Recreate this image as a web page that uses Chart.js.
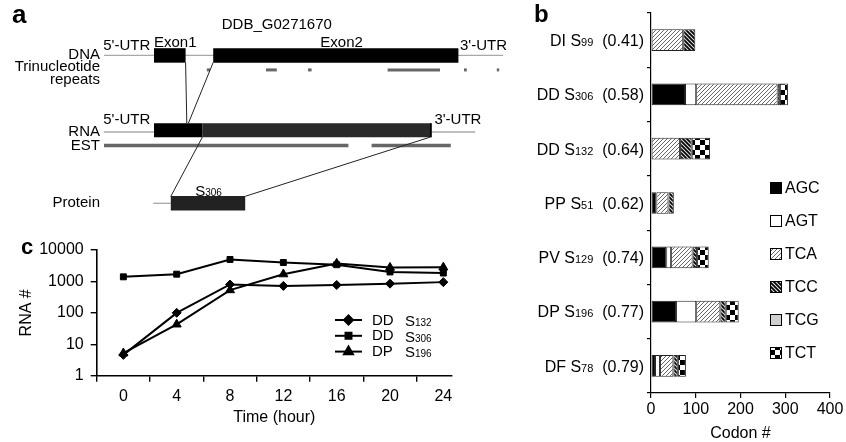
<!DOCTYPE html>
<html><head><meta charset="utf-8">
<script src="https://cdn.jsdelivr.net/npm/chart.js@4.4.0/dist/chart.umd.min.js"></script>
<style>
html,body{margin:0;padding:0;background:#fff;overflow:hidden;width:846px;height:442px}
canvas{position:absolute}
#ca{left:0;top:0}
#cb{left:530px;top:0}
#cc{left:0;top:230px}
</style></head><body>
<canvas id="ca" width="530" height="230"></canvas>
<canvas id="cb" width="316" height="442"></canvas>
<canvas id="cc" width="460" height="212"></canvas>
<script>
// ---------------- DATA ----------------
// Panel a: gene model (schematic units along the gene)
const dnaSpan = [0, 998];
const exons = [[125, 204], [273, 886]];
const repeats = [[257, 265], [405, 432], [510, 519], [709, 840], [900, 907], [982, 988]];
const rnaSpan = [0, 928];
const rnaFirst = [125, 246];
const rnaRest = [246, 819];
const estSegments = [[0, 611], [669, 867]];
const proteinLead = [123, 167];
const proteinBox = [167, 353];
const geneName = 'DDB_G0271670';
const proteinName = ['S', '306'];

// Panel b: codon usage per protein
const protNames = ['DI', 'DD', 'DD', 'PP', 'PV', 'DP', 'DF'];
const protSizes = ['99', '306', '132', '51', '129', '196', '78'];
const protScores = ['(0.41)', '(0.58)', '(0.64)', '(0.62)', '(0.74)', '(0.77)', '(0.79)'];
const codons = ['AGC', 'AGT', 'TCA', 'TCC', 'TCG', 'TCT'];
const AGC = [0, 76, 0, 12, 34, 56, 9];
const AGT = [0, 25, 0, 0, 11, 45, 11];
const TCA = [72, 182, 65, 27, 48, 54, 30];
const TCC = [27, 5, 26, 12, 10, 12, 10];
const TCG = [0, 0, 0, 0, 0, 0, 0];
const TCT = [0, 18, 41, 0, 26, 29, 18];
const codonTicks = [0, 100, 200, 300, 400];

// Panel c: RNA time course
const hours = [0, 4, 8, 12, 16, 20, 24];
const rnaS132 = [4.6, 100, 800, 720, 770, 850, 950];
const rnaS306 = [1400, 1700, 5000, 4000, 3400, 2000, 1850];
const rnaS196 = [5.2, 43, 530, 1700, 3700, 2750, 2800];
const seriesNames = [['DD', '132'], ['DD', '306'], ['DP', '196']];
const rnaTicks = [1, 10, 100, 1000, 10000];
const hourTicks = [0, 4, 8, 12, 16, 20, 24];

// ---------------- COMMON ----------------
const FONT = '"Liberation Sans", Arial, Helvetica, sans-serif';
Chart.defaults.font.family = FONT;
Chart.defaults.color = '#000';
Chart.defaults.animation = false;
Chart.defaults.plugins.legend.display = false;
Chart.defaults.plugins.tooltip.enabled = false;

// ---------------- PANEL A ----------------
const TR = {dna: 2.41, rep: 3.04, rna: 5.66, est: 6.33, prot: 8.84};
const boxHalf = 7 / 23;
function seg(a, y, color, width) {
  return {data: [{x: a[0], y: y}, {x: a[1], y: y}], borderColor: color, borderWidth: width,
    showLine: true, pointRadius: 0, borderCapStyle: 'butt', clip: false};
}
function link(x0, y0, x1, y1) {
  return {data: [{x: x0, y: y0}, {x: x1, y: y1}], borderColor: '#222', borderWidth: 1,
    showLine: true, pointRadius: 0, clip: false};
}
const aSets = [];
aSets.push(seg(dnaSpan, TR.dna, '#a8a8a8', 1.3));
exons.forEach(e => aSets.push(seg(e, TR.dna, '#000', 14.5)));
repeats.forEach(r => aSets.push(seg(r, TR.rep, '#666', 3)));
aSets.push(seg(rnaSpan, TR.rna + 0.08, '#a8a8a8', 1.3));
aSets.push(seg(rnaRest, TR.rna, '#2a2a2a', 14));
aSets.push(seg(rnaFirst, TR.rna, '#000', 14));
aSets.push(seg([rnaRest[1] - 4, rnaRest[1]], TR.rna, '#000', 14));
estSegments.forEach(s => aSets.push(seg(s, TR.est, '#666', 3.5)));
aSets.push(seg(proteinLead, TR.prot, '#a8a8a8', 1.3));
aSets.push(seg(proteinBox, TR.prot, '#222', 14.5));
aSets.push(link(exons[0][1], TR.dna + boxHalf, exons[0][1] + 3, TR.rna - boxHalf));
aSets.push(link(exons[1][0], TR.dna + boxHalf, exons[0][1] + 7, TR.rna - boxHalf));
aSets.push(link(rnaFirst[1], TR.rna + boxHalf, proteinBox[0], TR.prot - boxHalf));
aSets.push(link(rnaRest[1] - 4, TR.rna + boxHalf, proteinBox[1], TR.prot - boxHalf));
// Chart.js paints dataset 0 last (on top): reverse so later items sit above earlier ones
aSets.reverse();

const aLabels = [
  {t: geneName, x: 432, y: 1.09, al: 'center'},
  {t: "5'-UTR", x: -2, y: 2.0, al: 'left'},
  {t: 'Exon1', x: exons[0][0], y: 1.85, al: 'left'},
  {t: 'Exon2', x: 594, y: 1.85, al: 'center'},
  {t: "3'-UTR", x: 890, y: 2.0, al: 'left'},
  {t: 'DNA', x: -10, y: 2.4, al: 'right'},
  {t: 'Trinucleotide', x: -10, y: 2.92, al: 'right'},
  {t: 'repeats', x: -10, y: 3.48, al: 'right'},
  {t: "5'-UTR", x: -2, y: 5.2, al: 'left'},
  {t: "3'-UTR", x: 826, y: 5.2, al: 'left'},
  {t: 'RNA', x: -10, y: 5.72, al: 'right'},
  {t: 'EST', x: -10, y: 6.33, al: 'right'},
  {t: 'Protein', x: -10, y: 8.84, al: 'right'}
];
const aText = {
  id: 'aText',
  afterDraw(chart) {
    const c = chart.ctx, xs = chart.scales.x, ys = chart.scales.y;
    c.save();
    c.fillStyle = '#000';
    c.textBaseline = 'middle';
    c.font = '15px ' + FONT;
    aLabels.forEach(l => {
      c.textAlign = l.al;
      c.fillText(l.t, xs.getPixelForValue(l.x), ys.getPixelForValue(l.y));
    });
    // protein name with subscript
    c.textAlign = 'left';
    c.textBaseline = 'alphabetic';
    const px = xs.getPixelForValue(228), py = ys.getPixelForValue(8.5);
    c.font = '15px ' + FONT;
    c.fillText(proteinName[0], px, py);
    const w = c.measureText(proteinName[0]).width;
    c.font = '10px ' + FONT;
    c.fillText(proteinName[1], px + w, py);
    // panel letter
    c.font = 'bold 26px ' + FONT;
    c.fillText('a', xs.getPixelForValue(-230), ys.getPixelForValue(1.0));
    c.restore();
  }
};
new Chart(document.getElementById('ca'), {
  type: 'scatter',
  data: {datasets: aSets},
  options: {
    responsive: false,
    layout: {padding: 0},
    scales: {
      x: {type: 'linear', display: false, min: -260, max: 1065},
      y: {type: 'linear', display: false, min: 0, max: 10, reverse: true}
    },
    events: []
  },
  plugins: [aText]
});

// ---------------- PANEL B ----------------
function pattern(kind) {
  const cv = document.createElement('canvas');
  const g = cv.getContext('2d');
  if (kind === 'hatch') {
    cv.width = cv.height = 4;
    g.fillStyle = '#fff'; g.fillRect(0, 0, 4, 4);
    g.strokeStyle = '#555'; g.lineWidth = 0.9;
    g.beginPath();
    g.moveTo(0, 4); g.lineTo(4, 0);
    g.moveTo(-1, 1); g.lineTo(1, -1);
    g.moveTo(3, 5); g.lineTo(5, 3);
    g.stroke();
  } else if (kind === 'dense') {
    cv.width = cv.height = 4;
    g.fillStyle = '#000'; g.fillRect(0, 0, 4, 4);
    g.strokeStyle = '#ddd'; g.lineWidth = 1.1;
    g.beginPath();
    g.moveTo(0, 0); g.lineTo(4, 4);
    g.moveTo(-1, 3); g.lineTo(1, 5);
    g.moveTo(3, -1); g.lineTo(5, 1);
    g.stroke();
  } else if (kind === 'check') {
    cv.width = cv.height = 10;
    g.fillStyle = '#fff'; g.fillRect(0, 0, 10, 10);
    g.fillStyle = '#000'; g.fillRect(0, 0, 5, 5); g.fillRect(5, 5, 5, 5);
  }
  return g.createPattern(cv, 'repeat');
}
const fills = ['#000', '#fff', pattern('hatch'), pattern('dense'), '#cfcfcf', pattern('check')];
const codonData = [AGC, AGT, TCA, TCC, TCG, TCT];
const bLabels = protNames.map((n, i) => n + ' S' + protSizes[i] + ' ' + protScores[i]);
const bSets = codons.map((c, k) => ({
  label: c,
  data: codonData[k].map(v => v === 0 ? null : v),
  backgroundColor: fills[k],
  borderColor: '#222',
  borderWidth: 1,
  borderSkipped: false,
  barPercentage: 0.4,
  categoryPercentage: 1
}));
const bText = {
  id: 'bText',
  afterDraw(chart) {
    const c = chart.ctx, ys = chart.scales.y;
    c.save();
    c.fillStyle = '#000';
    c.textBaseline = 'alphabetic';
    c.textAlign = 'left';
    const right = chart.chartArea.left - 7;
    protNames.forEach((n, i) => {
      const y = ys.getPixelForValue(i) + 5.8;
      const p1 = n + ' S', p2 = protSizes[i], p3 = '  ' + protScores[i];
      c.font = '16px ' + FONT; const w1 = c.measureText(p1).width, w3 = c.measureText(p3).width;
      c.font = '11px ' + FONT; const w2 = c.measureText(p2).width;
      let x = right - w1 - w2 - w3;
      c.font = '16px ' + FONT; c.fillText(p1, x, y); x += w1;
      c.font = '11px ' + FONT; c.fillText(p2, x, y); x += w2;
      c.font = '16px ' + FONT; c.fillText(p3, x, y);
    });
    // legend
    const lx = chart.chartArea.left + 119, ly0 = 188, dy = 33;
    codons.forEach((cd, k) => {
      const y = ly0 + k * dy;
      c.fillStyle = fills[k];
      c.fillRect(lx, y - 6, 12, 12);
      c.strokeStyle = '#000'; c.lineWidth = 1;
      c.strokeRect(lx + 0.5, y - 5.5, 11, 11);
      c.fillStyle = '#000';
      c.font = '16px ' + FONT;
      c.textBaseline = 'middle';
      c.fillText(cd, lx + 15, y + 0.5);
    });
    c.font = 'bold 24px ' + FONT;
    c.textBaseline = 'alphabetic';
    c.fillText('b', 4, 22);
    c.restore();
  }
};
new Chart(document.getElementById('cb'), {
  type: 'bar',
  data: {labels: bLabels, datasets: bSets},
  options: {
    responsive: false,
    indexAxis: 'y',
    layout: {padding: {left: 0, top: 13, right: 16, bottom: 0}},
    scales: {
      x: {
        stacked: true, min: 0, max: 400,
        afterBuildTicks: a => { a.ticks = codonTicks.map(v => ({value: v})); },
        afterFit: s => { s.height = 49; },
        ticks: {font: {size: 16}, color: '#000', padding: 2, maxRotation: 0},
        grid: {drawOnChartArea: false, tickLength: 5, color: '#000', lineWidth: 1.2},
        border: {color: '#000', width: 1.2},
        title: {display: true, text: 'Codon #', font: {size: 16, lineHeight: 1}, padding: {top: 0, bottom: 0}, color: '#000'}
      },
      y: {
        stacked: true,
        afterFit: s => { s.width = 121; },
        ticks: {display: false},
        grid: {drawOnChartArea: false, tickLength: 4, color: '#000', lineWidth: 1.2, offset: true},
        border: {color: '#000', width: 1.2}
      }
    },
    events: []
  },
  plugins: [bText]
});

// ---------------- PANEL C ----------------
const cSeries = [rnaS132, rnaS306, rnaS196];
const cStyles = [
  {pointStyle: 'rectRot', r: 4.5},
  {pointStyle: 'rect', r: 4.2},
  {pointStyle: 'triangle', r: 5.2}
];
const cSets = cSeries.map((s, k) => ({
  label: seriesNames[k].join(' S'),
  data: hours.map((h, i) => ({x: h, y: s[i]})),
  borderColor: '#000',
  backgroundColor: '#000',
  borderWidth: 2,
  pointStyle: cStyles[k].pointStyle,
  pointRadius: cStyles[k].r,
  pointBorderWidth: 1,
  tension: 0,
  clip: false
}));
const cText = {
  id: 'cText',
  afterDraw(chart) {
    const c = chart.ctx;
    c.save();
    const lx0 = 335, lx1 = 362, ly0 = 90, dy = 15.8;
    seriesNames.forEach((nm, k) => {
      const y = ly0 + k * dy;
      c.strokeStyle = '#000'; c.lineWidth = 2;
      c.beginPath(); c.moveTo(lx0, y); c.lineTo(lx1, y); c.stroke();
      c.fillStyle = '#000';
      Chart.helpers.drawPoint(c, {pointStyle: cStyles[k].pointStyle, radius: cStyles[k].r, borderWidth: 1}, (lx0 + lx1) / 2, y);
      c.font = '15px ' + FONT;
      c.textBaseline = 'middle';
      c.textAlign = 'left';
      c.fillText(nm[0], 372, y + 0.5);
      c.textBaseline = 'alphabetic';
      c.fillText('S', 405, y + 5.8);
      c.font = '10px ' + FONT;
      c.fillText(nm[1], 415, y + 5.8);
    });
    c.font = 'bold 22px ' + FONT;
    c.fillText('c', 21, 24);
    c.restore();
  }
};
new Chart(document.getElementById('cc'), {
  type: 'line',
  data: {datasets: cSets},
  options: {
    responsive: false,
    layout: {padding: {left: 0, top: 20, right: 8, bottom: 0}},
    scales: {
      x: {
        type: 'linear', min: -2, max: 24.65,
        afterBuildTicks: a => { a.ticks = hourTicks.map(v => ({value: v - 2})); },
        afterFit: s => { s.height = 66.3; },
        ticks: {font: {size: 16}, color: '#000', padding: 5, labelOffset: 26.7, maxRotation: 0, autoSkip: false,
          callback: v => String(v + 2)},
        grid: {drawOnChartArea: false, tickLength: 6, color: '#000', lineWidth: 1.4},
        border: {color: '#000', width: 1.6},
        title: {display: true, text: 'Time (hour)', font: {size: 16}, padding: {top: 0, bottom: 14.4}, color: '#000'}
      },
      y: {
        type: 'logarithmic', min: 1, max: 10000,
        afterBuildTicks: a => { a.ticks = rnaTicks.map(v => ({value: v})); },
        afterFit: s => { s.width = 96.7; },
        ticks: {font: {size: 16}, color: '#000', padding: 7, callback: v => String(v)},
        grid: {drawOnChartArea: false, tickLength: 6, color: '#000', lineWidth: 1.4},
        border: {color: '#000', width: 1.6},
        title: {display: true, text: 'RNA #', font: {size: 16}, padding: {top: 17.4, bottom: 0}, color: '#000'}
      }
    },
    events: []
  },
  plugins: [cText]
});
</script></body></html>
